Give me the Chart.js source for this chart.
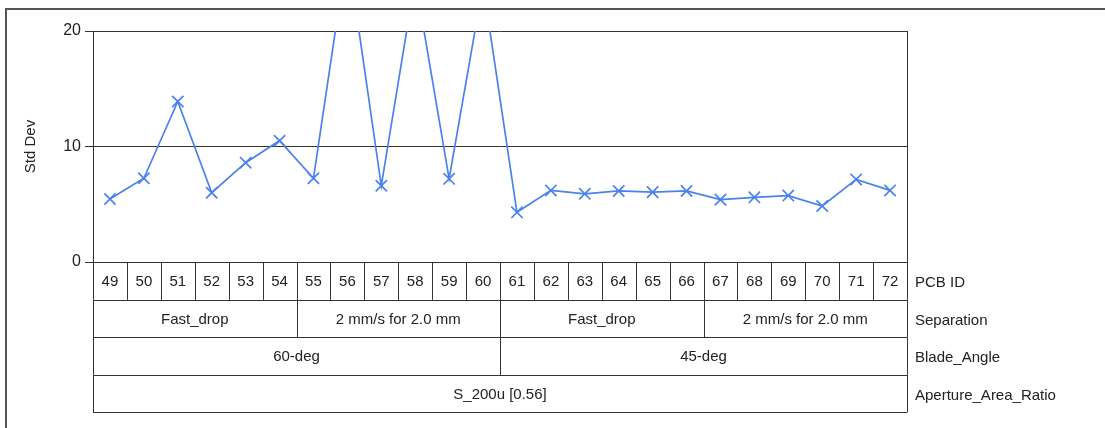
<!DOCTYPE html>
<html>
<head>
<meta charset="utf-8">
<script src="https://cdn.jsdelivr.net/npm/chart.js@4/dist/chart.umd.min.js"></script>
<style>
  html, body { margin: 0; padding: 0; background: #fff; overflow: hidden; }
  #wrap { position: relative; width: 1105px; height: 428px; }
  #frame { position: absolute; left: 5px; top: 8px; width: 1200px; height: 500px;
           border-left: 2px solid #555; border-top: 2px solid #555; box-sizing: border-box; }
  canvas { position: absolute; left: 0; top: 0; }
</style>
</head>
<body>
<div id="wrap">
  <div id="frame"></div>
  <canvas id="chart" width="1105" height="428"></canvas>
</div>
<script>
// Std Dev per PCB, with the process settings each PCB ran under
const pcbIds = ['49','50','51','52','53','54','55','56','57','58','59','60',
                '61','62','63','64','65','66','67','68','69','70','71','72'];
const stdDev = [5.45, 7.25, 13.9, 6.0, 8.6, 10.5, 7.25, 27.0, 6.6, 24.5, 7.2, 24.0,
                4.3, 6.2, 5.9, 6.15, 6.05, 6.15, 5.4, 5.6, 5.75, 4.85, 7.15, 6.2];

const separationLabels = ['Fast_drop', '2 mm/s for 2.0 mm', 'Fast_drop', '2 mm/s for 2.0 mm'];
const separationSpans  = [6, 6, 6, 6];
const bladeAngleLabels = ['60-deg', '45-deg'];
const bladeAngleSpans  = [12, 12];
const apertureLabels   = ['S_200u [0.56]'];
const apertureSpans    = [24];
const rowTitles = ['PCB ID', 'Separation', 'Blade_Angle', 'Aperture_Area_Ratio'];
const yTicks = [0, 10, 20];

const FONT = '"Liberation Sans", Arial, sans-serif';
const LINE = '#333';
const ROW_H = 37.6;

// Variability table drawn under the plot, aligned to the category scale
const tablePlugin = {
  id: 'varTable',
  afterDraw(chart) {
    const ctx = chart.ctx;
    const xs = chart.scales.x;
    const area = chart.chartArea;
    const edge = i => xs.getPixelForValue(i - 0.5);
    const left = edge(0), right = edge(pcbIds.length);
    const top = area.bottom;

    ctx.save();
    ctx.strokeStyle = LINE;
    ctx.lineWidth = 1;
    // plot frame right side
    ctx.beginPath();
    ctx.moveTo(Math.round(area.right) + 0.5, area.top);
    ctx.lineTo(Math.round(area.right) + 0.5, top);
    ctx.stroke();

    const rows = [
      { labels: pcbIds, spans: pcbIds.map(() => 1) },
      { labels: separationLabels, spans: separationSpans },
      { labels: bladeAngleLabels, spans: bladeAngleSpans },
      { labels: apertureLabels, spans: apertureSpans }
    ];

    ctx.font = '15px ' + FONT;
    ctx.textBaseline = 'middle';
    rows.forEach((row, r) => {
      const y0 = top + r * ROW_H, y1 = y0 + ROW_H;
      ctx.strokeStyle = LINE;
      ctx.beginPath();
      ctx.moveTo(left, Math.round(y1) + 0.5);
      ctx.lineTo(right, Math.round(y1) + 0.5);
      ctx.stroke();
      let idx = 0;
      row.labels.forEach((lab, k) => {
        const a = edge(idx), b = edge(idx + row.spans[k]);
        ctx.beginPath();
        ctx.moveTo(Math.round(a) + 0.5, y0);
        ctx.lineTo(Math.round(a) + 0.5, y1);
        ctx.moveTo(Math.round(b) + 0.5, y0);
        ctx.lineTo(Math.round(b) + 0.5, y1);
        ctx.stroke();
        ctx.fillStyle = '#222';
        ctx.textAlign = 'center';
        ctx.fillText(lab, (a + b) / 2, (y0 + y1) / 2 + 1);
        idx += row.spans[k];
      });
      ctx.textAlign = 'left';
      ctx.fillStyle = '#222';
      ctx.fillText(rowTitles[r], right + 8, (y0 + y1) / 2 + 2);
    });
    ctx.restore();
  }
};

new Chart(document.getElementById('chart'), {
  type: 'line',
  data: {
    labels: pcbIds,
    datasets: [{
      data: stdDev,
      borderColor: '#4a80f0',
      backgroundColor: '#4a80f0',
      borderWidth: 1.7,
      pointStyle: 'crossRot',
      pointRadius: 8,
      pointBorderWidth: 1.7,
      pointBorderColor: '#4a80f0',
      tension: 0
    }]
  },
  options: {
    responsive: false,
    animation: false,
    layout: { padding: { left: 0, right: 198, top: 31, bottom: 166 } },
    plugins: { legend: { display: false }, tooltip: { enabled: false } },
    scales: {
      x: { display: false, offset: true },
      y: {
        min: 0, max: 20,
        afterBuildTicks: s => { s.ticks = yTicks.map(v => ({ value: v })); },
        afterFit: s => { s.width = 93; },
        grid: { color: LINE, lineWidth: 1, drawTicks: true, tickLength: 8 },
        border: { display: true, color: LINE, width: 1 },
        ticks: { color: '#222', font: { family: FONT, size: 16 }, padding: 4 },
        title: { display: true, text: 'Std Dev', color: '#222', font: { family: FONT, size: 15 }, padding: { top: 22, bottom: 0 } }
      }
    }
  },
  plugins: [tablePlugin]
});
</script>
</body>
</html>
